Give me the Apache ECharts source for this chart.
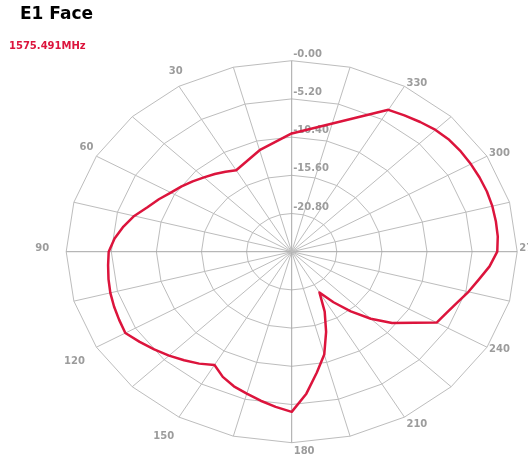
<!DOCTYPE html>
<html>
<head>
<meta charset="utf-8">
<script src="https://cdn.jsdelivr.net/npm/echarts@6/dist/echarts.min.js"></script>
<style>
html,body{margin:0;padding:0;background:#fff;}
#c{width:528px;height:459px;}
</style>
</head>
<body>
<div id="c"></div>
<script>
// ---- data ----
const chartTitle = 'E1 Face';
const frequencyLabel = '1575.491MHz';
const angles = [0,15,30,35,40,45,50,55,60,65,70,75,80,85,90,95,100,105,110,115,120,125,130,135,140,145,150,155,160,165,170,175,180,185,190,195,200,205,210,215,220,225,230,240,245,250,255,260,265,270,275,280,285,290,295,300,305,310,315,320,325,330,360];
const gains = [-9.9,-11.7,-13.2,-12.7,-12.2,-11.7,-11.1,-10.5,-9.9,-9.1,-8.3,-7.2,-6.3,-5.5,-4.9,-4.75,-4.55,-4.35,-4.2,-4.05,-3.85,-4.6,-5.3,-6.0,-6.7,-7.4,-8.2,-7.2,-6.5,-6.0,-5.4,-4.8,-4.2,-6.6,-9.3,-11.5,-14.4,-17.0,-19.6,-17.6,-15.4,-13.1,-10.9,-6.7,-6.3,-5.7,-4.9,-4.1,-3.1,-2.3,-2.15,-2.1,-2.05,-2.05,-2.1,-2.15,-2.2,-2.3,-2.55,-2.95,-3.35,-3.7,-9.9];
const ringValues = [0, -5.2, -10.4, -15.6, -20.8];
const ringLabels = ['-0.00', '-5.20', '-10.40', '-15.60', '-20.80'];
const spokeAngles = [0,15,30,45,60,75,90,105,120,135,150,165,180,195,210,225,240,255,270,285,300,315,330,345];
const angleLabels = [30,60,90,120,150,180,210,240,270,300,330];
const radiusMin = -26, radiusMax = 0;

// ---- styling ----
const SX = 225.5 / 191;   // horizontal stretch of the plot (elliptical display)
const gridColor = '#bdbdbd';
const axisColor = '#a6a6a6';
const labelColor = '#9c9c9c';
const curveColor = '#dc143c';
const FONT = '"DejaVu Sans", Verdana, sans-serif';

function projector(api) {
  const c = api.coord([radiusMin, 0]);
  const f = function (r, a) {
    const p = api.coord([r, a]);
    return [c[0] + (p[0] - c[0]) * SX, p[1]];
  };
  f.center = c;
  return f;
}

const chart = echarts.init(document.getElementById('c'));
chart.setOption({
  animation: false,
  backgroundColor: '#fff',
  title: [
    { text: chartTitle, left: 20, top: 6, padding: 0,
      textStyle: { fontFamily: FONT, fontWeight: 'bold', fontSize: 17, color: '#000' } },
    { text: frequencyLabel, left: 9, top: 41, padding: 0,
      textStyle: { fontFamily: FONT, fontWeight: 'bold', fontSize: 10, color: curveColor } }
  ],
  polar: { center: [291.7, 251.7], radius: 191 },
  angleAxis: { type: 'value', min: 0, max: 360, startAngle: 90, clockwise: false, show: false },
  radiusAxis: { type: 'value', min: radiusMin, max: radiusMax, show: false },
  series: [
    {
      type: 'custom', coordinateSystem: 'polar', silent: true, z: 1,
      data: [[radiusMin, 0]],
      renderItem: function (params, api) {
        const pt = projector(api);
        const c = pt.center;
        const children = [];
        // rings (polygons)
        ringValues.forEach(function (v) {
          const pts = spokeAngles.map(function (a) { return pt(v, a); });
          children.push({ type: 'polygon', shape: { points: pts },
            style: { fill: null, stroke: gridColor, lineWidth: 1 } });
        });
        // spokes
        spokeAngles.forEach(function (a) {
          const p = pt(radiusMax, a);
          const main = a % 90 === 0;
          children.push({ type: 'line', shape: { x1: c[0], y1: c[1], x2: p[0], y2: p[1] },
            style: { stroke: main ? axisColor : gridColor, lineWidth: 1 } });
        });
        // radius labels
        ringValues.forEach(function (v, i) {
          const p = pt(v, 0);
          children.push({ type: 'text', x: p[0] + 1.5, y: p[1] - 6.5,
            style: { text: ringLabels[i], fill: labelColor, fontFamily: FONT, fontWeight: 'bold', fontSize: 10,
              align: 'left', verticalAlign: 'middle' } });
        });
        // angle labels
        angleLabels.forEach(function (a) {
          const p = pt(radiusMax, a);
          const dx = p[0] - c[0], dy = p[1] - c[1];
          const len = Math.sqrt(dx * dx + dy * dy);
          const ux = dx / len, uy = dy / len;
          let x, y, align;
          if (a >= 180) {
            align = 'left';
            x = p[0] + 2;
            y = p[1] + Math.max(uy, 0) * 12 - 3;
          } else {
            align = 'center';
            x = p[0] + ux * 20 + (uy < -0.01 ? 8 : -4);
            y = p[1] + uy * 14 + (uy > 0.01 ? 8 : -3);
          }
          children.push({ type: 'text', x: x, y: y,
            style: { text: String(a), fill: labelColor, fontFamily: FONT, fontWeight: 'bold', fontSize: 10,
              align: align, verticalAlign: 'middle' } });
        });
        return { type: 'group', children: children };
      }
    },
    {
      type: 'custom', coordinateSystem: 'polar', silent: true, z: 5,
      data: [[gains[0], angles[0]]],
      renderItem: function (params, api) {
        const pt = projector(api);
        const pts = angles.map(function (a, i) { return pt(gains[i], a); });
        return { type: 'polyline', shape: { points: pts },
          style: { fill: null, stroke: curveColor, lineWidth: 2.5, lineJoin: 'round', lineCap: 'round' } };
      }
    }
  ]
});
</script>
</body>
</html>
